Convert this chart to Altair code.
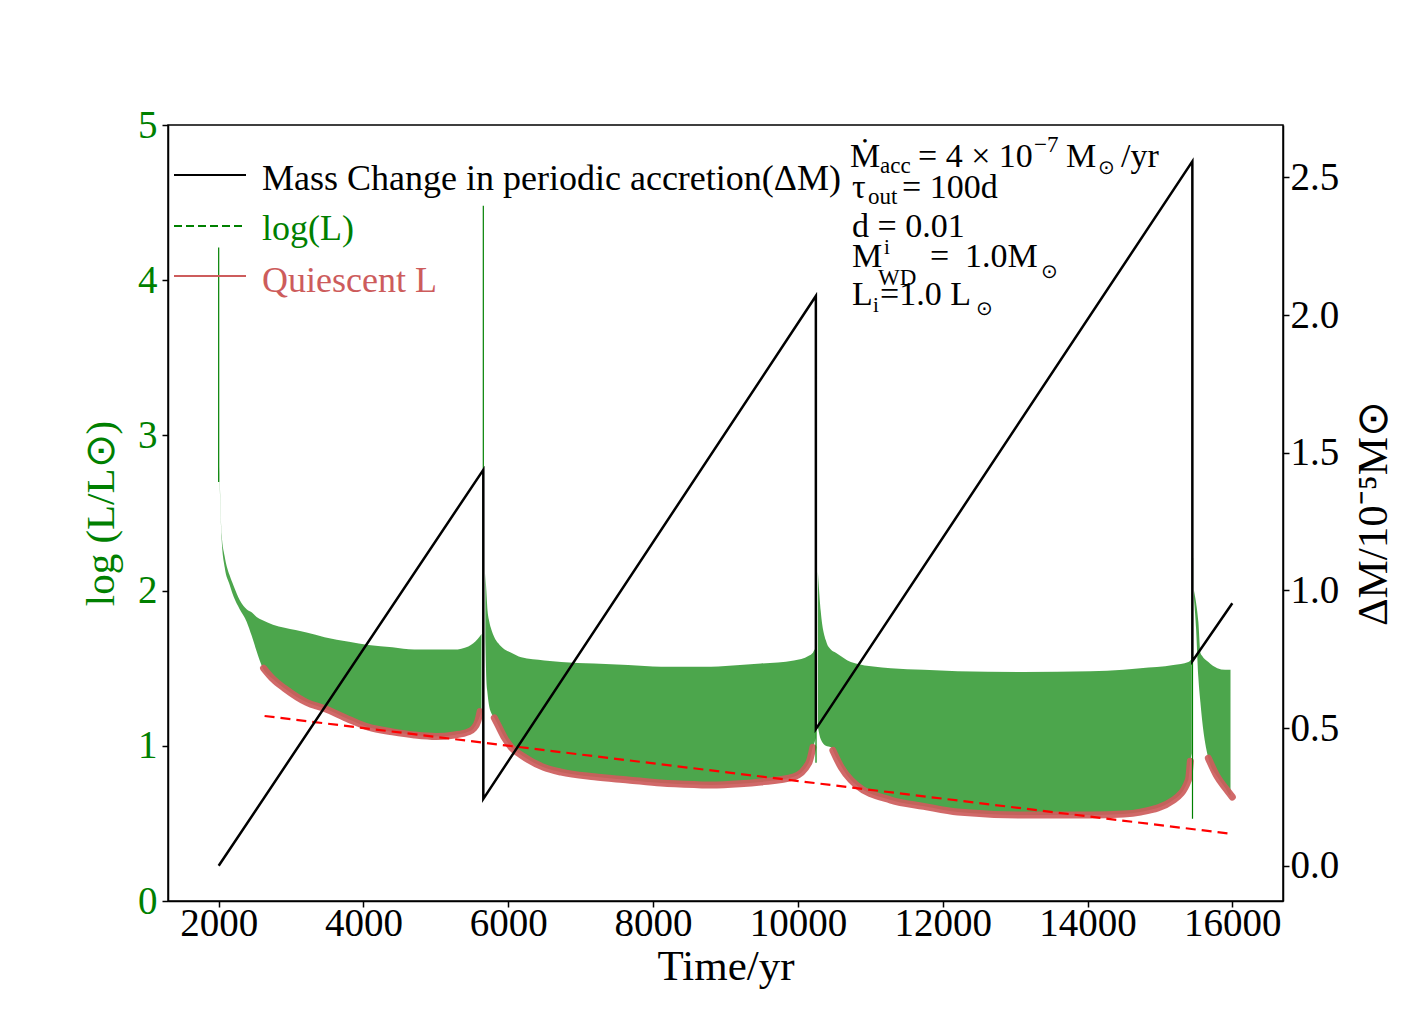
import altair as alt
import pandas as pd

FONT = "Liberation Serif"

# ---------------- data ----------------
# Mass change in periodic accretion (right axis, units of 1e-5 Msun)
mass_t = [2000, 5655, 5655, 10248, 10248, 15448, 15448, 16000]
mass_dm = [0.0, 1.438, 0.243, 2.069, 0.496, 2.558, 0.743, 0.953]

# log(L) band: lower / upper envelope of the dense oscillation, per cycle
band_cycle = [1] * 24 + [2] * 25 + [3] * 18 + [4] * 10
band_t = [
    2010, 2041, 2083, 2150, 2207, 2290, 2386, 2455, 2524, 2600, 2750, 2910,
    3214, 3462, 3800, 4069, 4400, 4703, 5000, 5255, 5448, 5517, 5580, 5630,
    5683, 5697, 5710, 5738, 5766, 5807, 5862, 5950, 6041, 6179, 6497, 6731,
    7186, 7655, 8110, 8566, 8800, 9200, 9490, 9945, 10150, 10207, 10235, 10240, 10245,
    10276, 10317, 10386, 10455, 10524, 10731, 10800, 11283, 11738, 12207, 13117,
    14041, 14497, 14731, 15186, 15393, 15420, 15440,
    15470, 15500, 15531, 15559, 15582, 15669, 15793, 15900, 15972, 15975,
]
band_low = [
    2.75, 2.33, 2.15, 2.04, 1.96, 1.88, 1.80, 1.71, 1.61, 1.51, 1.43, 1.37,
    1.28, 1.24, 1.17, 1.12, 1.09, 1.07, 1.06, 1.07, 1.09, 1.11, 1.16, 1.22,
    1.70, 1.42, 1.35, 1.25, 1.21, 1.18, 1.13, 1.05, 0.99, 0.94, 0.86, 0.83,
    0.80, 0.78, 0.76, 0.75, 0.747, 0.755, 0.767, 0.80, 0.89, 0.99, 1.03, 1.04, 1.05,
    1.12, 1.04, 1.00, 0.99, 0.93, 0.78, 0.75, 0.65, 0.61, 0.573, 0.554,
    0.554, 0.56, 0.573, 0.65, 0.78, 0.90, 0.95,
    1.95, 1.75, 1.44, 1.28, 1.17, 0.92, 0.80, 0.73, 0.68, 0.68,
]
band_high = [
    2.80, 2.36, 2.22, 2.10, 2.03, 1.94, 1.88, 1.86, 1.83, 1.81, 1.78, 1.76,
    1.73, 1.70, 1.67, 1.65, 1.635, 1.62, 1.62, 1.62, 1.64, 1.66, 1.69, 1.72,
    2.11, 2.00, 1.89, 1.80, 1.75, 1.70, 1.66, 1.62, 1.60, 1.57, 1.55, 1.54,
    1.53, 1.52, 1.51, 1.51, 1.51, 1.52, 1.53, 1.55, 1.58, 1.60, 1.62, 1.62, 1.63,
    2.12, 1.86, 1.68, 1.62, 1.60, 1.54, 1.53, 1.50, 1.49, 1.48, 1.475,
    1.48, 1.49, 1.50, 1.52, 1.54, 1.55, 1.56,
    2.00, 1.92, 1.80, 1.60, 1.58, 1.54, 1.50, 1.49, 1.49, 1.49,
]

# quiescent luminosity (thick red), per cycle
quiet_cycle = [1] * 15 + [2] * 17 + [3] * 14 + [4] * 4
quiet_t = [
    2620, 2750, 2910, 3214, 3462, 3800, 4069, 4400, 4703, 5000, 5255, 5448, 5517, 5580, 5610,
    5807, 5862, 5950, 6041, 6179, 6497, 6731, 7186, 7655, 8110, 8566, 8800, 9200, 9490, 9945, 10150, 10207,
    10483, 10600, 10731, 10800, 11283, 11738, 12207, 13117, 14041, 14497, 14731, 15186, 15393, 15420,
    15669, 15793, 15900, 16000,
]
quiet_L = [
    1.50, 1.43, 1.37, 1.28, 1.24, 1.17, 1.12, 1.09, 1.07, 1.06, 1.07, 1.09, 1.11, 1.16, 1.22,
    1.18, 1.13, 1.05, 0.99, 0.94, 0.86, 0.83, 0.80, 0.78, 0.76, 0.75, 0.747, 0.755, 0.767, 0.80, 0.89, 0.99,
    0.97, 0.86, 0.78, 0.75, 0.65, 0.61, 0.573, 0.554, 0.554, 0.56, 0.573, 0.65, 0.78, 0.90,
    0.92, 0.80, 0.73, 0.67,
]

# outburst spikes of log(L)
spike_t = [2000, 5655, 10250, 15450]
spike_low = [2.70, 1.00, 0.89, 0.53]
spike_high = [4.21, 4.48, 3.90, 2.21]

# dashed trend of the quiescent luminosity
trend_t = [2634, 16000]
trend_L = [1.192, 0.432]

x_ticks = [2000, 4000, 6000, 8000, 10000, 12000, 14000, 16000]
yl_ticks = [0, 1, 2, 3, 4, 5]
yr_ticks = [0.0, 0.5, 1.0, 1.5, 2.0, 2.5]

legend_labels = ["Mass Change in periodic accretion(ΔM)", "log(L)", "Quiescent L"]

# ---------------- frames ----------------
mass_df = pd.DataFrame({"t": mass_t, "dm": mass_dm})
band_df = pd.DataFrame({"t": band_t, "low": band_low, "high": band_high, "cycle": band_cycle})
quiet_df = pd.DataFrame({"t": quiet_t, "L": quiet_L, "cycle": quiet_cycle})
spike_df = pd.DataFrame({"t": spike_t, "low": spike_low, "high": spike_high})
trend_df = pd.DataFrame({"t": trend_t, "L": trend_L})
one = pd.DataFrame({"k": [0]})

W, H = 1115, 776
GREEN = "#008000"
RED = "#cd5c5c"

xaxis = alt.Axis(values=x_ticks, title="Time/yr", format="d", grid=False,
                 labelPadding=-3, titlePadding=2, titleFontSize=43)
xenc = alt.X("t:Q", scale=alt.Scale(domain=[1300, 16700], nice=False, zero=False), axis=xaxis)

yl_scale = alt.Scale(domain=[0, 5], nice=False, zero=False)
yl_axis = alt.Axis(values=yl_ticks, title="log (L/L⊙)", grid=False, labelColor=GREEN,
                   titleColor=GREEN, labelPadding=5, titlePadding=15, titleFontSize=41)

band = alt.Chart(band_df).mark_area(color=GREEN, opacity=0.7, interpolate="monotone").encode(
    x=xenc,
    y=alt.Y("low:Q", scale=yl_scale, axis=yl_axis),
    y2="high:Q",
    detail="cycle:N",
)

quiet = alt.Chart(quiet_df).mark_line(color=RED, strokeWidth=7, opacity=0.92,
                                      strokeCap="round", interpolate="monotone").encode(
    x=xenc,
    y=alt.Y("L:Q", scale=yl_scale, axis=yl_axis),
    detail="cycle:N",
)

spikes = alt.Chart(spike_df).mark_rule(color=GREEN, strokeWidth=1.2).encode(
    x=xenc,
    y=alt.Y("low:Q", scale=yl_scale, axis=yl_axis),
    y2="high:Q",
)

trend = alt.Chart(trend_df).mark_line(color="red", strokeWidth=2.2, strokeDash=[10, 6]).encode(
    x=xenc,
    y=alt.Y("L:Q", scale=yl_scale, axis=yl_axis),
)

# legend (drawn by hand, inside the frame at the top left)
leg_style = [("black", [1, 0]), (GREEN, [8, 4]), (RED, [1, 0])]
leg_line_y = [50, 101, 151]
leg_text_y = [65, 115, 167]
legend_layers = []
for label, (col, dash), ly, ty in zip(legend_labels, leg_style, leg_line_y, leg_text_y):
    legend_layers.append(
        alt.Chart(one).mark_rule(color=col, strokeWidth=2, strokeDash=dash).encode(
            x=alt.value(6), x2=alt.value(78), y=alt.value(ly)))
    legend_layers.append(
        alt.Chart(one).mark_text(color=col, font=FONT, fontSize=36, align="left",
                                 baseline="alphabetic").encode(
            x=alt.value(94), y=alt.value(ty), text=alt.value(label)))

# parameter annotation (top right): (text, x, baseline y, font size)
ann = [
    ("Ṁ", 682, 42, 34), ("acc", 712, 48, 23), ("= 4 × 10", 750, 42, 34), ("−7", 866, 27, 23),
    ("M", 898, 42, 34), ("⊙", 930, 49, 20), ("/yr", 953, 42, 34),
    ("τ", 684, 73, 34), ("out", 700, 79, 23), ("= 100d", 734, 73, 34),
    ("d = 0.01", 684, 112, 34),
    ("M", 684, 142, 34), ("i", 716, 129, 21), ("WD", 710, 160, 23), ("=", 762, 142, 34),
    ("1.0M", 797, 142, 34), ("⊙", 873, 153, 20),
    ("L", 684, 180, 34), ("i", 705, 187, 21), ("=1.0 L", 712, 180, 34), ("⊙", 808, 190, 20),
]
ann_layers = [
    alt.Chart(one).mark_text(color="black", font=FONT, fontSize=fs, align="left",
                             baseline="alphabetic").encode(
        x=alt.value(xx), y=alt.value(yy), text=alt.value(txt))
    for txt, xx, yy, fs in ann
]

left = alt.layer(band, quiet, spikes, trend, *legend_layers, *ann_layers)

mass = alt.Chart(mass_df).mark_line(color="black", strokeWidth=2.5).encode(
    x=xenc,
    y=alt.Y("dm:Q", scale=alt.Scale(domain=[-0.128, 2.69], nice=False, zero=False),
            axis=alt.Axis(values=yr_ticks, format=".1f", orient="right", title="ΔM/10⁻⁵M⊙",
                          grid=False, titleAngle=270, titleBaseline="top", labelPadding=1,
                          titlePadding=14, titleFontSize=43)),
)

chart = alt.layer(left, mass).resolve_scale(y="independent").properties(
    width=W, height=H,
    autosize=alt.AutoSizeParams(type="none"),
    padding={"left": 160, "top": 117, "right": 125, "bottom": 109},
).configure_view(stroke="black", strokeWidth=1.5).configure_axis(
    labelFont=FONT, titleFont=FONT, labelFontSize=39,
    titleFontWeight="normal", domainColor="black", domainWidth=1.5,
    tickColor="black", tickWidth=1.5, tickSize=6, labelColor="black", titleColor="black",
)

chart.save("out.html", embed_options={"renderer": "svg", "actions": False})
